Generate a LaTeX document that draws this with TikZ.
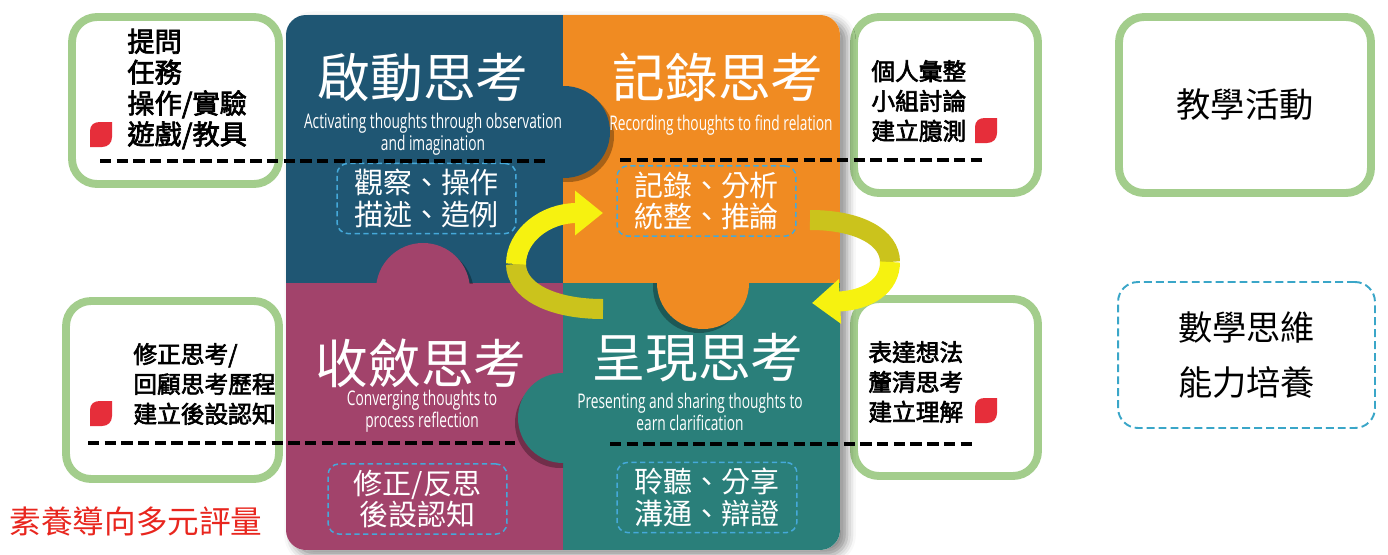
\documentclass[tikz,border=0pt]{standalone}
\usepackage{fontspec}
\setmainfont{Open Sans}
\newfontfamily\cjk{Noto Sans CJK TC}
\newfontfamily\cjkmid[FakeBold=2.5]{Noto Sans CJK TC}
\newfontfamily\engnarrow[FakeStretch=0.68]{Open Sans}
\usetikzlibrary{arrows.meta,shadows.blur}

\definecolor{puzblue}{HTML}{1F5673}
\definecolor{puzorange}{HTML}{F08B22}
\definecolor{puzpink}{HTML}{A2436B}
\definecolor{puzteal}{HTML}{2A7F7A}
\definecolor{boxgreen}{HTML}{A3CD8C}
\definecolor{dashblue}{HTML}{45A9DA}
\definecolor{legendblue}{HTML}{3AA6C8}
\definecolor{leafred}{HTML}{E62E3A}
\definecolor{evalred}{HTML}{E8261E}
\definecolor{arrowyellow}{HTML}{F6F210}
\definecolor{arrowolive}{HTML}{CBC31C}

\tikzset{
	actbox/.style={draw=boxgreen, line width=4.5pt, rounded corners=0.5cm, fill=white},
	skillbox/.style={draw=dashblue, line width=0.85pt, dash pattern=on 3pt off 2pt, rounded corners=0.22cm, align=center, text=white, font=\cjk\fontsize{16.5}{18}\selectfont},
	puztitle/.style={text=white, font=\cjk\fontsize{30}{34}\selectfont},
	puzsub/.style={text=white, align=center, font=\engnarrow\fontsize{11.5}{12.3}\selectfont},
	sidetext/.style={anchor=west, align=left, inner sep=0pt, font=\cjkmid\fontsize{13.5}{17}\selectfont},
	sepline/.style={line width=2.1pt, dash pattern=on 6.5pt off 3pt},
	turn/.style={line width=0.4cm},
	bumpshade/.style={fill=black, opacity=0.3},
	leaf/.pic={\fill[leafred] (0,25) -- (0,9) .. controls (0,3) and (4,0) .. (10,0) -- (22,0) -- (22,15) .. controls (22,21) and (18,25) .. (12,25) -- cycle;}
}

\begin{document}
\begin{tikzpicture}[x=0.02cm, y=-0.02cm]
		\useasboundingbox (0,0) rectangle (1388,554);
		
		%%%%% SIDE BOXES %%%%%
		\node[actbox, minimum width=4.14cm, minimum height=3.34cm] (a-tl) at (175.5,100.5) {};
		\node[actbox, minimum width=3.68cm, minimum height=3.52cm] (a-tr) at (946,105) {};
		\node[actbox, minimum width=4.26cm, minimum height=3.56cm] (a-bl) at (172.5,390) {};
		\node[actbox, minimum width=3.68cm, minimum height=3.54cm] (a-br) at (946,387.5) {};
		
		%%%%% PUZZLE %%%%%
		\fill[white, rounded corners=0.4cm, blur shadow={shadow xshift=4pt, shadow yshift=-3pt, shadow blur radius=5pt, shadow opacity=45}] (286,15) rectangle (840,550);
		\begin{scope}
			\clip[rounded corners=0.4cm] (286,15) rectangle (840,550);
			\fill[puzblue] (286,15) rectangle (563,283);
			\fill[puzorange] (563,15) rectangle (840,283);
			\fill[puzpink] (286,283) rectangle (563,550);
			\fill[puzteal] (563,283) rectangle (840,550);
		\end{scope}
		
		% bumps
		\begin{scope}
			\clip (286,15) rectangle (563,283);
			\fill[bumpshade] (427,294) circle (47);
		\end{scope}
		\fill[puzpink] (423,290) circle (47);
		\begin{scope}
			\clip (563,15) rectangle (840,283);
			\fill[bumpshade] (568,136) circle (46);
		\end{scope}
		\fill[puzblue] (564,132) circle (46);
		\begin{scope}
			\clip (563,283) rectangle (840,550);
			\fill[bumpshade] (699,287) circle (46);
		\end{scope}
		\fill[puzorange] (703,283) circle (46);
		\begin{scope}
			\clip (286,283) rectangle (563,550);
			\fill[bumpshade] (560,423) circle (45);
		\end{scope}
		\fill[puzteal] (563,418) circle (45);
		
		% titles
		\node[puztitle] (t-start) at (423,78) {啟動思考};
		\node[puzsub] (s-start) at (433,134) {Activating thoughts through observation\\and imagination};
		\node[puztitle] (t-record) at (718,77) {記錄思考};
		\node[puzsub] (s-record) at (721,125) {Recording thoughts to find relation};
		\node[puztitle] (t-conv) at (421,363) {收斂思考};
		\node[puzsub] (s-conv) at (422,411) {Converging thoughts to\\process reflection};
		\node[puztitle] (t-show) at (698,358) {呈現思考};
		\node[puzsub] (s-show) at (690,412) {Presenting and sharing thoughts to\\earn clarification};
		
		% skills
		\node[skillbox, minimum width=3.58cm, minimum height=1.34cm] (k-start) at (426.5,198.5) {觀察、操作\\描述、造例};
		\node[skillbox, minimum width=3.58cm, minimum height=1.36cm] (k-record) at (706.5,201) {記錄、分析\\統整、推論};
		\node[skillbox, minimum width=3.58cm, minimum height=1.36cm] (k-conv) at (417.5,499) {修正/反思\\後設認知};
		\node[skillbox, minimum width=3.6cm, minimum height=1.38cm] (k-show) at (707,497.5) {聆聽、分享\\溝通、辯證};
		
		%%%%% SIDE TEXTS %%%%%
		\node[sidetext, font=\cjkmid\fontsize{15.5}{17.6}\selectfont] (x-tl) at (127,89) {提問\\任務\\操作/實驗\\遊戲/教具};
		\node[sidetext] (x-tr) at (871,101) {個人彙整\\小組討論\\建立臆測};
		\node[sidetext] (x-bl) at (133,384) {修正思考/\\回顧思考歷程\\建立後設認知};
		\node[sidetext] (x-br) at (868,382) {表達想法\\釐清思考\\建立理解};
		
		\pic (leaf-tl) at (90,122) {leaf};
		\pic (leaf-tr) at (975,118) {leaf};
		\pic (leaf-bl) at (90,401) {leaf};
		\pic (leaf-br) at (975,398) {leaf};
		
		\draw[sepline] (100,161) -- (545,161);
		\draw[sepline] (620,160) -- (983,160);
		\draw[sepline] (88,443) -- (515,443);
		\draw[sepline] (610,444) -- (975,444);
		
		%%%%% ARROWS %%%%%
		\coordinate (la-tail) at (603,309);
		\coordinate (la-mid) at (516,264);
		\coordinate (la-tip) at (603,213);
		\draw[turn, arrowolive] (la-tail) .. controls (550,309) and (516,290) .. (la-mid);
		\draw[turn, arrowyellow, -{Triangle[width=0.86cm,length=0.56cm]}] (la-mid) .. controls (516,236) and (545,213) .. (la-tip);
		
		\coordinate (ra-tail) at (810,220);
		\coordinate (ra-mid) at (890,262);
		\coordinate (ra-tip) at (812,303);
		\draw[turn, arrowolive] (ra-tail) .. controls (860,220) and (890,238) .. (ra-mid);
		\draw[turn, arrowyellow, -{Triangle[width=0.86cm,length=0.56cm]}] (ra-mid) .. controls (890,286) and (868,300) .. (ra-tip);
		
		%%%%% LEGEND %%%%%
		\node[actbox, minimum width=5.04cm, minimum height=3.52cm, font=\cjk\fontsize{19.5}{24}\selectfont] (legend-act) at (1245,105) {教學活動};
		\node[draw=legendblue, line width=1.1pt, dash pattern=on 4.5pt off 2.3pt, rounded corners=0.4cm, minimum width=5.14cm, minimum height=2.92cm, align=center, font=\cjk\fontsize{19.5}{31}\selectfont] (legend-skill) at (1246.5,355) {數學思維\\能力培養};
		
		\node[text=evalred, font=\cjk\fontsize{18}{20}\selectfont] (eval) at (136,521) {素養導向多元評量};
		
	\end{tikzpicture}
\end{document}
